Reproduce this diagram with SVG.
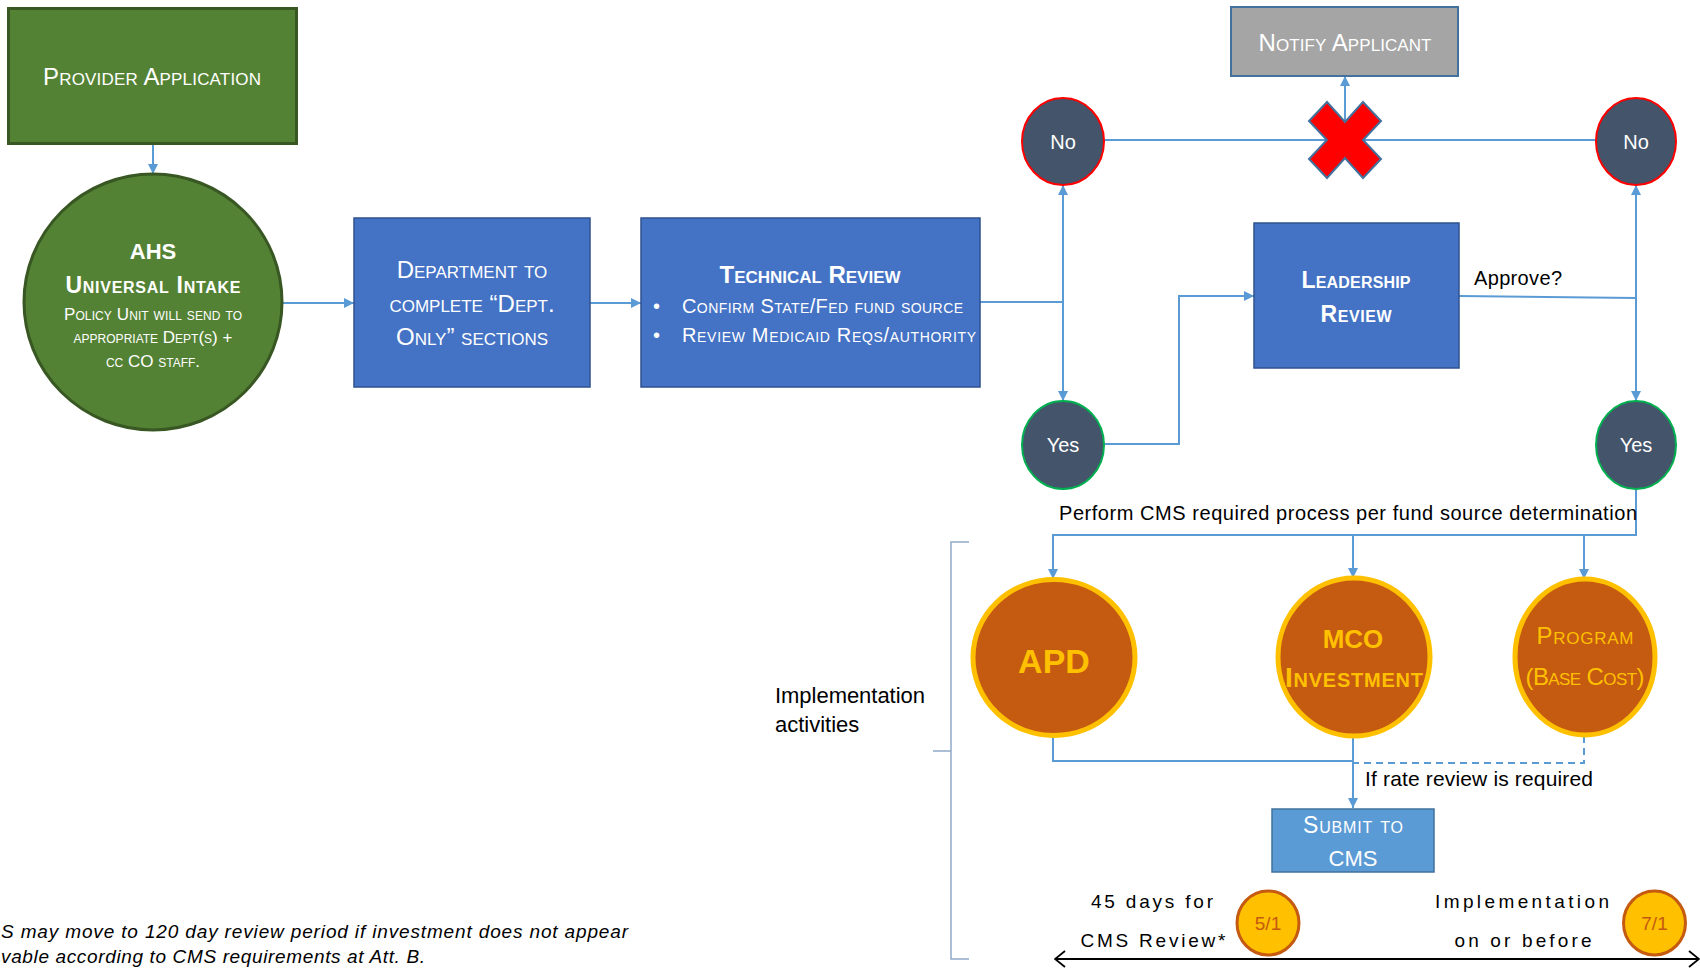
<svg xmlns="http://www.w3.org/2000/svg" width="1700" height="970" viewBox="0 0 1700 970">
<style>
text{font-family:"Liberation Sans",Arial,sans-serif}
.w{fill:#fff}
.k{fill:#000}
.y{fill:#FFC000}
.sc{font-variant:small-caps}
.b{font-weight:bold}
.mid{text-anchor:middle}
.con{fill:none;stroke:#5B9BD5;stroke-width:2}
.green{fill:#548235;stroke:#385723;stroke-width:3}
.blue{fill:#4472C4;stroke:#2F528F;stroke-width:1.5}
.dec{fill:#44546A;stroke-width:2}
.org{fill:#C55A11;stroke:#FFC000;stroke-width:5}
.date{fill:#FFC000;stroke:#C55A11;stroke-width:3}
</style>
<defs>
<marker id="ah" viewBox="0 0 10 10" refX="10" refY="5" markerWidth="10" markerHeight="10" markerUnits="userSpaceOnUse" orient="auto"><path d="M0,0 L10,5 L0,10 z" fill="#5B9BD5"/></marker>
<marker id="oa" viewBox="0 0 12 18" refX="11" refY="9" markerWidth="12" markerHeight="18" markerUnits="userSpaceOnUse" orient="auto-start-reverse"><path d="M1,1 L11,9 L1,17" fill="none" stroke="#000" stroke-width="1.8"/></marker>
</defs>
<rect width="1700" height="970" fill="#fff"/>

<g id="connectors">
<path class="con" d="M153,144 V174" marker-end="url(#ah)"/>
<path class="con" d="M282,303 H354" marker-end="url(#ah)"/>
<path class="con" d="M590,303 H641" marker-end="url(#ah)"/>
<path class="con" d="M980,302 H1063"/>
<path class="con" d="M1063,302 V185" marker-end="url(#ah)"/>
<path class="con" d="M1063,302 V401" marker-end="url(#ah)"/>
<path class="con" d="M1104,140 H1596"/>
<path class="con" d="M1345,140 V76" marker-end="url(#ah)"/>
<path class="con" d="M1104,444 H1179 V296 H1254" marker-end="url(#ah)"/>
<path class="con" d="M1459,296 L1636,298"/>
<path class="con" d="M1636,298 V185" marker-end="url(#ah)"/>
<path class="con" d="M1636,298 V401" marker-end="url(#ah)"/>
<path class="con" d="M1636,489 V535 H1053 V579" marker-end="url(#ah)"/>
<path class="con" d="M1353,535 V578" marker-end="url(#ah)"/>
<path class="con" d="M1584,535 V579" marker-end="url(#ah)"/>
<path class="con" d="M1053,736 V761 H1353"/>
<path class="con" d="M1353,737 V808" marker-end="url(#ah)"/>
<path class="con" d="M1584,736 V763 H1353" stroke-dasharray="7,5"/>
<path d="M969,542 H951 V959 H969 M933,751 H951" fill="none" stroke="#8EA9C8" stroke-width="1.5"/>
<path d="M1055,959 H1699" fill="none" stroke="#000" stroke-width="2" marker-start="url(#oa)" marker-end="url(#oa)"/>
</g>

<g id="provider-application">
<rect class="green" x="8.5" y="8.5" width="288" height="135"/>
<text class="w sc mid" x="152" y="85" font-size="24" textLength="218">Provider Application</text>
</g>

<g id="ahs-universal-intake">
<ellipse class="green" cx="153" cy="302" rx="129" ry="128"/>
<text class="w b mid" x="153" y="259" font-size="22">AHS</text>
<text class="w b sc mid" x="153" y="293" font-size="23" textLength="175">Universal Intake</text>
<text class="w sc mid" x="153" y="320" font-size="17" textLength="178">Policy Unit will send to</text>
<text class="w sc mid" x="153" y="343" font-size="17">appropriate Dept(s) +</text>
<text class="w sc mid" x="153" y="367" font-size="17">cc CO staff.</text>
</g>

<g id="department">
<rect class="blue" x="354" y="218" width="236" height="169"/>
<text class="w sc mid" x="472" y="278" font-size="24">Department to</text>
<text class="w sc mid" x="472" y="312" font-size="24">complete “Dept.</text>
<text class="w sc mid" x="472" y="345" font-size="24">Only” sections</text>
</g>

<g id="technical-review">
<rect class="blue" x="641" y="218" width="339" height="169"/>
<text class="w b sc mid" x="810" y="283" font-size="24" textLength="181">Technical Review</text>
<text class="w" x="653" y="313" font-size="20">•</text>
<text class="w sc" x="682" y="313" font-size="20" textLength="281">Confirm State/Fed fund source</text>
<text class="w" x="653" y="342" font-size="20">•</text>
<text class="w sc" x="682" y="342" font-size="20" textLength="294">Review Medicaid Reqs/authority</text>
</g>

<g id="no-left">
<ellipse class="dec" cx="1063" cy="141.5" rx="41" ry="43.5" stroke="#FF0000"/>
<text class="w mid" x="1063" y="148.5" font-size="20">No</text>
</g>

<g id="yes-left">
<ellipse class="dec" cx="1063" cy="445" rx="41" ry="44" stroke="#00B050"/>
<text class="w mid" x="1063" y="452" font-size="20">Yes</text>
</g>

<g id="notify-applicant">
<rect x="1231" y="7" width="227" height="69" fill="#A5A5A5" stroke="#41719C" stroke-width="2"/>
<text class="w sc mid" x="1345" y="51" font-size="24" textLength="173">Notify Applicant</text>
</g>

<g id="reject-x">
<polygon points="1345,122 1363,102 1381,121 1363,140 1381,159 1363,178 1345,158 1327,178 1309,159 1327,140 1309,121 1327,102" fill="#FF0000" stroke="#41719C" stroke-width="2" stroke-linejoin="miter"/>
</g>

<g id="no-right">
<ellipse class="dec" cx="1636" cy="141.5" rx="40" ry="43.5" stroke="#FF0000"/>
<text class="w mid" x="1636" y="148.5" font-size="20">No</text>
</g>

<g id="leadership-review">
<rect class="blue" x="1254" y="223" width="205" height="145"/>
<text class="w b sc mid" x="1356" y="288" font-size="23" textLength="109">Leadership</text>
<text class="w b sc mid" x="1356" y="322" font-size="23" textLength="71">Review</text>
</g>

<g id="approve-label">
<text class="k" x="1474" y="285" font-size="20" textLength="88">Approve?</text>
</g>

<g id="yes-right">
<ellipse class="dec" cx="1636" cy="445" rx="40" ry="44" stroke="#00B050"/>
<text class="w mid" x="1636" y="452" font-size="20">Yes</text>
</g>

<g id="perform-label">
<text class="k" x="1059" y="520" font-size="20" textLength="578">Perform CMS required process per fund source determination</text>
</g>

<g id="apd">
<ellipse class="org" cx="1054" cy="657.5" rx="81" ry="78"/>
<text class="y b mid" x="1054" y="673" font-size="34">APD</text>
</g>

<g id="mco-investment">
<ellipse class="org" cx="1354" cy="657" rx="76" ry="79"/>
<text class="y b mid" x="1353" y="648" font-size="26">MCO</text>
<text class="y b sc mid" x="1354" y="687" font-size="28" textLength="138">Investment</text>
</g>

<g id="program-base-cost">
<ellipse class="org" cx="1585" cy="657" rx="70" ry="78"/>
<text class="y sc mid" x="1585" y="644" font-size="24" textLength="97">Program</text>
<text class="y sc mid" x="1585" y="685" font-size="24" textLength="119">(Base Cost)</text>
</g>

<g id="implementation-activities">
<text class="k" x="775" y="703" font-size="22" textLength="150">Implementation</text>
<text class="k" x="775" y="732" font-size="22">activities</text>
</g>

<g id="rate-review-label">
<text class="k" x="1365" y="786" font-size="21" textLength="228">If rate review is required</text>
</g>

<g id="submit-to-cms">
<rect x="1272" y="809" width="162" height="63" fill="#5B9BD5" stroke="#41719C" stroke-width="1.5"/>
<text class="w sc mid" x="1353" y="833" font-size="23" textLength="100">Submit to</text>
<text class="w sc mid" x="1353" y="866" font-size="22">CMS</text>
</g>

<g id="timeline">
<text class="k mid" x="1152" y="908" font-size="19" textLength="122">45 days for</text>
<text class="k mid" x="1153" y="947" font-size="19" textLength="145">CMS Review*</text>
<text class="k mid" x="1522" y="908" font-size="19" textLength="174">Implementation</text>
<text class="k mid" x="1523" y="947" font-size="19" textLength="137">on or before</text>
</g>

<g id="date-5-1">
<ellipse class="date" cx="1268" cy="923" rx="31" ry="32"/>
<text class="mid" x="1268" y="930" font-size="19" fill="#C55A11">5/1</text>
</g>

<g id="date-7-1">
<ellipse class="date" cx="1654.5" cy="923" rx="31" ry="32"/>
<text class="mid" x="1654.5" y="930" font-size="19" fill="#C55A11">7/1</text>
</g>

<g id="footnote">
<text class="k" x="1" y="938" font-size="19" font-style="italic" textLength="627">S may move to 120 day review period if investment does not appear</text>
<text class="k" x="1" y="963" font-size="19" font-style="italic" textLength="424">vable according to CMS requirements at Att. B.</text>
</g>
</svg>
